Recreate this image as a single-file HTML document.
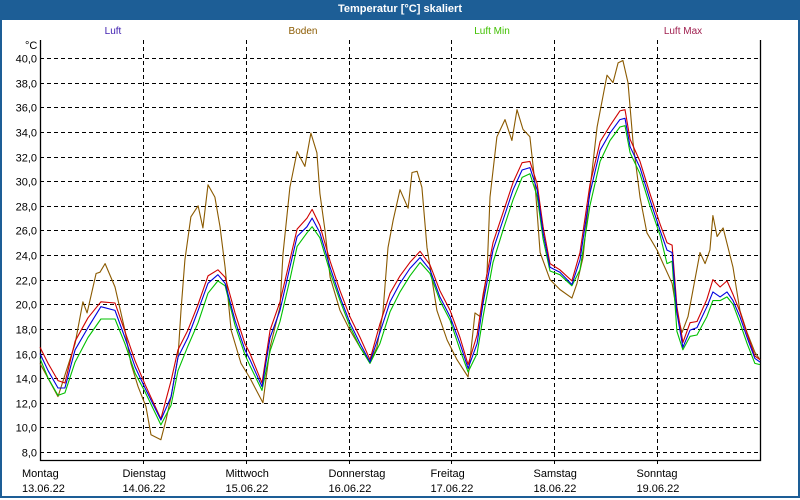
<!DOCTYPE html>
<html><head><meta charset="utf-8">
<style>
html,body{margin:0;padding:0;}
body{width:800px;height:500px;overflow:hidden;background:#fff;font-family:"Liberation Sans",sans-serif;}
#frame{position:absolute;left:0;top:0;width:796px;height:496px;border:2px solid #1d5e96;border-top:none;}
#titlebar{position:absolute;left:0;top:0;width:800px;height:20px;background:#1d5e96;color:#fff;font-weight:bold;font-size:11px;text-align:center;line-height:19px;}
svg{position:absolute;left:0;top:0;}
</style></head>
<body>
<div id="frame"></div>
<div id="titlebar">Temperatur [°C] skaliert</div>
<svg id="chart" width="800" height="500"></svg>
<script>
const dayNames=["Montag","Dienstag","Mittwoch","Donnerstag","Freitag","Samstag","Sonntag"];
const dayDates=["13.06.22","14.06.22","15.06.22","16.06.22","17.06.22","18.06.22","19.06.22"];
const yTicks=[8,10,12,14,16,18,20,22,24,26,28,30,32,34,36,38,40];
const luftHours=[0,1.9,4.2,5.8,8.2,11.2,14.2,17.5,19.8,22.2,24.5,28.2,30.6,32.2,34.5,36.9,39.2,41.5,43.2,45.5,47.8,49,51.8,53.7,56,58.3,60,62.3,63.5,65.3,67.7,70,72.3,74.7,77,79.3,81.7,84,86.3,88.7,91,93.3,95.7,98,99.9,102,103.4,105.7,108,110.4,112.5,114.3,116,117.4,119,121.3,124.1,126,128.3,130.7,133,135.3,136.5,137.7,140,142.3,144.7,146.3,147.5,148.6,150,151.7,153.3,155.6,157,158.7,160.3,161.7,163.3,165,166.8,168];
const luft=[16.0,14.6,13.2,13.2,16.3,18.1,19.8,19.5,17.3,14.9,13.2,10.6,12.5,15.7,17.3,19.5,21.7,22.4,21.7,18.7,16.3,15.5,13.3,17.3,19.5,23.0,25.5,26.3,27.0,25.8,23.0,20.6,18.5,16.8,15.3,17.7,20.2,21.7,22.9,23.8,22.8,20.6,19.0,16.8,14.8,16.8,20.1,24.4,26.8,29.3,30.9,31.1,29.3,25.8,23.0,22.6,21.6,23.6,29.0,32.5,33.9,35.0,35.1,32.8,31.1,28.5,26.0,24.4,24.2,19.3,16.5,17.9,18.1,19.8,21.0,20.6,21.0,20.3,19.0,17.3,15.6,15.3];
const luftMax=[16.5,15.2,13.8,13.6,17.0,18.9,20.2,20.1,17.8,15.4,13.5,10.7,13.8,16.3,17.9,20.0,22.3,22.8,22.2,19.3,16.8,16.0,13.6,17.9,20.2,23.6,26.1,27.0,27.7,26.4,23.5,21.1,19.0,17.3,15.5,18.4,20.9,22.3,23.4,24.3,23.2,21.1,19.5,17.3,15.1,17.5,20.8,25.0,27.4,29.9,31.5,31.6,29.8,26.3,23.3,22.8,21.9,24.2,29.7,33.2,34.5,35.7,35.8,33.4,31.6,29.0,26.5,25.0,24.8,19.8,16.9,18.5,18.6,20.4,22.0,21.4,21.9,20.8,19.4,17.6,15.8,15.5];
const luftMin=[15.6,14.0,12.6,12.8,15.3,17.3,18.8,18.8,16.8,14.4,12.9,10.2,11.8,14.6,16.6,18.5,20.9,21.9,21.5,18.3,15.9,15.0,13.0,16.2,18.6,22.0,24.7,25.8,26.3,25.4,22.6,20.3,18.2,16.5,15.2,16.8,19.4,21.0,22.3,23.4,22.5,20.3,18.7,16.3,14.5,16.0,19.0,23.4,26.0,28.5,30.3,30.6,28.8,25.3,22.7,22.4,21.5,22.8,28.0,31.6,33.3,34.4,34.5,32.3,30.6,28.0,25.6,23.3,23.5,17.8,16.3,17.4,17.5,19.0,20.3,20.3,20.6,20.0,18.5,16.8,15.2,15.1];
const bodenHours=[0,4.2,8.2,10,11,13.1,14,15.2,17.5,19.8,21.2,22.9,24.7,25.9,28.2,29.4,30.6,32.2,32.9,33.8,35.2,36.9,38,39.2,40.8,42,43.2,44.6,46.9,49,52,53.7,56,56.7,58.3,60,61.8,63.2,64.6,65.3,66.5,67.7,70,72.3,74.7,77,78.6,80,81.2,82.4,84,85.9,86.8,88,89.1,90.3,92.6,95,97.3,99.9,101.5,102.7,104.3,105,106.6,108.5,110.1,111.3,112.7,114.3,115.5,116.7,119,121.3,124.1,125.3,126.7,128.3,130,132.3,133.7,134.9,136,137.2,138.4,140,141.6,144,145.4,147.5,148.6,149.8,151.2,154,155.2,156.3,157,158,159.4,161.7,163.3,165,166.8,168];
const boden=[15.2,12.5,16.8,20.2,19.3,22.5,22.6,23.3,21.4,17.9,15.2,13.3,11.7,9.4,9.0,10.6,12.5,15.7,19.5,23.6,27.1,28.0,26.2,29.7,28.7,26.3,23.0,17.9,15.2,14.0,12.0,16.5,19.8,24.1,29.5,32.4,31.2,33.9,32.3,29.0,26.0,22.2,19.5,17.9,16.5,15.3,16.5,19.3,24.6,26.8,29.3,27.8,30.7,30.8,29.5,24.6,19.5,17.1,15.5,14.1,19.3,19.0,22.5,28.7,33.6,35.0,33.3,35.8,34.2,33.6,29.8,24.2,22.0,21.2,20.5,21.7,23.8,29.3,34.4,38.6,38.0,39.6,39.8,38.0,33.1,28.7,25.8,24.4,23.3,21.7,19.3,17.7,19.0,24.2,23.3,24.4,27.2,25.5,26.2,23.0,19.5,17.7,16.1,15.5];

const NS="http://www.w3.org/2000/svg";
const svg=document.getElementById('chart');
const L=40,R=760,T=40,B=460;
const xS=h=>L+(h/168)*(R-L);
const yS=v=>58+(40-v)*(394/32);
function mk(tag,attrs,parent){const e=document.createElementNS(NS,tag);for(const k in attrs)e.setAttribute(k,attrs[k]);(parent||svg).appendChild(e);return e;}

const grid=mk('g',{});


yTicks.forEach(v=>{
  const y=Math.round(yS(v))+0.5;
  const ln=mk('line',{x1:L,x2:R,y1:y,y2:y,stroke:'#000','stroke-width':1,'stroke-dasharray':'4,3'},grid);
  
  
  const t=mk('text',{x:L-3,y:y+4,'text-anchor':'end','font-size':'11','fill':'#000','font-family':'Liberation Sans, sans-serif'});
  t.textContent=v.toFixed(1).replace('.',',');
  
  
});
dayNames.forEach((d,i)=>{
  const x=Math.round(xS(i*24))+0.5;
  if(i>0){
    const ln=mk('line',{x1:x,x2:x,y1:T,y2:B+6,stroke:'#000','stroke-width':1,'stroke-dasharray':'4,3'},grid);
    
    
  }
  const t1=mk('text',{x:i==0?22:x-21,y:477,'font-size':'11','fill':'#000','font-family':'Liberation Sans, sans-serif'});
  t1.textContent=d;
  
  
  const t2=mk('text',{x:i==0?22:x-21,y:492,'font-size':'11','fill':'#000','font-family':'Liberation Sans, sans-serif'});
  t2.textContent=dayDates[i];
  
  
});
const unit=mk('text',{x:25,y:49,'font-size':'11','font-family':'Liberation Sans, sans-serif'});
unit.textContent='°C';


const ax=mk('path',{d:`M${L+0.5},${T} V${B+0.5} H${R+0.5} V${T}`,fill:'none',stroke:'#000','stroke-width':1.3});



function series(hours,vals,color,name){
  const d=hours.map((h,i)=>(i?'L':'M')+xS(h).toFixed(1)+','+yS(vals[i]).toFixed(1)).join(' ');
  const p=mk('path',{d:d,fill:'none',stroke:color,'stroke-width':1.1,'stroke-linejoin':'round'});
  
  
}
series(bodenHours,boden,'#8b5a00','boden-line');
series(luftHours,luftMin,'#00c000','luft-min-line');
series(luftHours,luftMax,'#d00000','luft-max-line');
series(luftHours,luft,'#0000e0','luft-line');

const legend=[["Luft",113,"#4020b0"],["Boden",303,"#8b5a00"],["Luft Min",492,"#40c000"],["Luft Max",683,"#a02050"]];
legend.forEach(l=>{
  const t=mk('text',{x:l[1],y:34,'text-anchor':'middle','font-size':'10','fill':l[2],'font-family':'Liberation Sans, sans-serif'});
  t.textContent=l[0];
  
  
});
</script>
</body></html>
